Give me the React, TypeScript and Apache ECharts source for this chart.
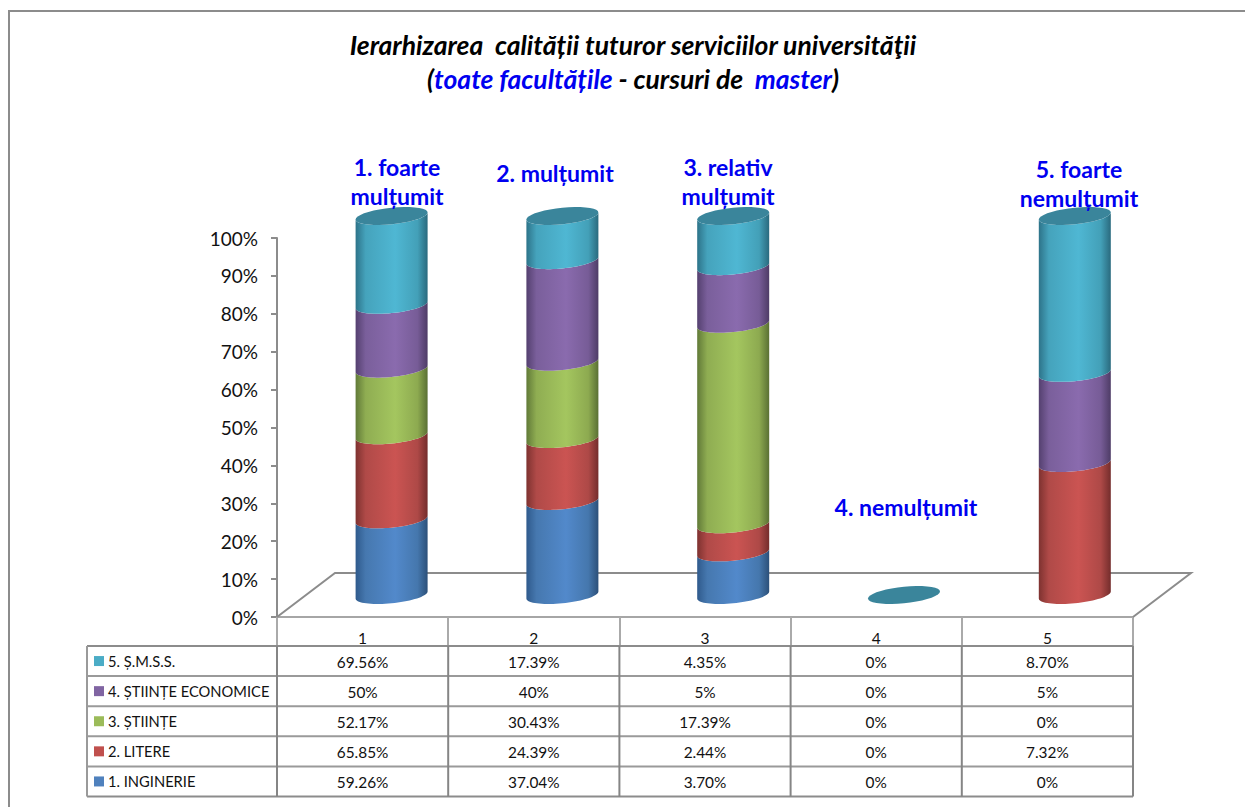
import React, { useEffect, useRef } from "react";
import * as echarts from "echarts";

const categories = ["1", "2", "3", "4", "5"];
const seriesNames = ["1. INGINERIE", "2. LITERE", "3. ȘTIINȚE", "4. ȘTIINȚE ECONOMICE", "5. Ș.M.S.S."];
const inginerie = [59.26, 37.04, 3.7, 0, 0];
const litere = [65.85, 24.39, 2.44, 0, 7.32];
const stiinte = [52.17, 30.43, 17.39, 0, 0];
const economice = [50, 40, 5, 0, 5];
const smss = [69.56, 17.39, 4.35, 0, 8.7];
const seriesValues = [inginerie, litere, stiinte, economice, smss];
const rowLabels = [
  ["59.26%", "37.04%", "3.70%", "0%", "0%"],
  ["65.85%", "24.39%", "2.44%", "0%", "7.32%"],
  ["52.17%", "30.43%", "17.39%", "0%", "0%"],
  ["50%", "40%", "5%", "0%", "5%"],
  ["69.56%", "17.39%", "4.35%", "0%", "8.70%"],
];
const keyColors = ["#4F81BD", "#C0504D", "#9BBB59", "#8064A2", "#4BACC6"];
const bodyStops = [
  ["#2F5A8C", "#4678AF", "#5289CB", "#4577AD", "#2C5079"],
  ["#7E3230", "#B04A48", "#CB5452", "#AE4947", "#742D2C"],
  ["#617A38", "#8FAD52", "#A4C65F", "#8DAA50", "#5A7034"],
  ["#54406F", "#7A5F9B", "#8A6BAE", "#775C97", "#4E3C66"],
  ["#2D7389", "#45A3BC", "#4FB7D3", "#43A0B8", "#2A6A7E"],
];
const capColor = "#3A859B";
const columnLabels = [
  { text: "1. foarte\nmulțumit", cx: 397, cy: 181.5 },
  { text: "2. mulțumit", cx: 555, cy: 173 },
  { text: "3. relativ\nmulțumit", cx: 728, cy: 181.5 },
  { text: "4. nemulțumit", cx: 906, cy: 507 },
  { text: "5. foarte\nnemulțumit", cx: 1079, cy: 183.5 },
];

const FONT = "Lato";
const GRID = { left: 277, top: 238, width: 856, height: 379 };
const DEPTH_X = 29;
const DEPTH_Y = -22;
const COLUMN_DRIFT = -0.4;
const RX = 36;
const TILT = 3.5;
const RY = 8.3;
const TABLE_LEFT = 87;
const TABLE_TOP = 646;
const ROW_H = 30.1;
const COL_W = GRID.width / categories.length;

const totals = categories.map((_, c) => seriesValues.reduce((s, v) => s + v[c], 0));

function segmentData(k: number) {
  const rows: number[][] = [];
  categories.forEach((_, c) => {
    const below = seriesValues.slice(0, k).reduce((s, v) => s + v[c], 0);
    if (totals[c] === 0 || seriesValues[k][c] === 0) return;
    rows.push([c, (below / totals[c]) * 100, ((below + seriesValues[k][c]) / totals[c]) * 100]);
  });
  return rows;
}

function arc(cx: number, cy: number, from: number, to: number) {
  const pts: number[][] = [];
  const n = 36;
  for (let i = 0; i <= n; i++) {
    const t = from + ((to - from) * i) / n;
    pts.push([cx + RX * Math.cos(t), cy - TILT * Math.cos(t) + RY * Math.sin(t)]);
  }
  return pts;
}

export default function App() {
  const ref = useRef<HTMLDivElement>(null);
  useEffect(() => {
    const chart = echarts.init(ref.current!, null, { renderer: "svg" });

    const segments = seriesNames.map((name, k) => ({
      type: "custom",
      name,
      z: 3,
      data: segmentData(k),
      encode: { x: 0, y: [1, 2] },
      renderItem: (_p: any, api: any) => {
        const c = api.value(0);
        const a = api.coord([c, api.value(1)]);
        const b = api.coord([c, api.value(2)]);
        const cx = a[0] + DEPTH_X + COLUMN_DRIFT * c;
        const lower = arc(cx, a[1] + DEPTH_Y, Math.PI, 0);
        const upper = arc(cx, b[1] + DEPTH_Y, 0, Math.PI);
        const s = bodyStops[k];
        return {
          type: "polygon",
          shape: { points: [...lower, ...upper] },
          style: {
            fill: new echarts.graphic.LinearGradient(0, 0, 1, 0, [
              { offset: 0, color: s[0] },
              { offset: 0.14, color: s[1] },
              { offset: 0.55, color: s[2] },
              { offset: 0.86, color: s[3] },
              { offset: 1, color: s[4] },
            ]),
          },
        };
      },
    }));

    const caps = {
      type: "custom",
      name: "cap",
      z: 4,
      data: categories.map((_, c) => [c, totals[c] > 0 ? 100 : 0]),
      encode: { x: 0, y: 1 },
      renderItem: (_p: any, api: any) => {
        const c = api.value(0);
        const p = api.coord([c, api.value(1)]);
        return {
          type: "polygon",
          shape: { points: arc(p[0] + DEPTH_X + COLUMN_DRIFT * c, p[1] + DEPTH_Y, 0, Math.PI * 2) },
          style: { fill: capColor },
        };
      },
    };

    const graphics: any[] = [];
    const line = (x1: number, y1: number, x2: number, y2: number, stroke: string, w: number, z = 1) =>
      graphics.push({ type: "line", z, shape: { x1, y1, x2, y2 }, style: { stroke, lineWidth: w } });

    // outer frame
    graphics.push({
      type: "polyline",
      z: 1,
      shape: { points: [[9, 807], [9, 11], [1245, 11]] },
      style: { stroke: "#8C8C8C", lineWidth: 2, fill: "none" },
    });
    // floor of the 3D plot
    const bottom = GRID.top + GRID.height;
    const right = GRID.left + GRID.width;
    graphics.push({
      type: "polyline",
      z: 1,
      shape: {
        points: [
          [GRID.left, bottom],
          [GRID.left + DEPTH_X * 2, bottom + DEPTH_Y * 2],
          [right + DEPTH_X * 2, bottom + DEPTH_Y * 2],
          [right, bottom],
        ],
      },
      style: { stroke: "#8C8C8C", lineWidth: 2, fill: "none" },
    });

    // data table
    const rows = seriesNames.length;
    for (let r = 0; r <= rows; r++) {
      line(TABLE_LEFT, TABLE_TOP + r * ROW_H, right, TABLE_TOP + r * ROW_H, r % 5 === 0 ? "#8C8C8C" : "#9A9A9A", 2);
    }
    line(TABLE_LEFT, TABLE_TOP, TABLE_LEFT, TABLE_TOP + rows * ROW_H, "#9A9A9A", 2);
    for (let c = 0; c <= categories.length; c++) {
      const x = GRID.left + c * COL_W;
      line(x, TABLE_TOP, x, TABLE_TOP + rows * ROW_H, "#858585", 2);
    }
    seriesNames.forEach((name, k) => {
      const y = TABLE_TOP + (rows - 1 - k) * ROW_H + ROW_H / 2;
      graphics.push({
        type: "rect",
        z: 2,
        shape: { x: 94, y: y - 5, width: 10, height: 10 },
        style: { fill: keyColors[k] },
      });
      graphics.push({
        type: "text",
        z: 10,
        x: 108,
        y: y - 0.5,
        style: { text: name, fontFamily: FONT, fontSize: 14.7, fill: "#111", verticalAlign: "middle", align: "left" },
      });
      rowLabels[k].forEach((label, c) => {
        graphics.push({
          type: "text",
          z: 10,
          x: GRID.left + (c + 0.5) * COL_W,
          y: y + 0.5,
          style: { text: label, fontFamily: FONT, fontSize: 15.4, fill: "#111", verticalAlign: "middle", align: "center" },
        });
      });
    });

    // labels above the columns
    columnLabels.forEach((l) => {
      graphics.push({
        type: "text",
        z: 10,
        x: l.cx,
        y: l.cy,
        style: {
          text: l.text,
          fontFamily: FONT,
          fontWeight: "bold",
          fontSize: 23,
          lineHeight: 29.5,
          fill: "#0000F0",
          align: "center",
          verticalAlign: "middle",
        },
      });
    });

    const base = { fontFamily: FONT, fontStyle: "italic", fontWeight: "bold", fontSize: 26.5, lineHeight: 34 };
    chart.setOption({
      animation: false,
      backgroundColor: "#fff",
      title: {
        left: 628,
        top: 23,
        textAlign: "center",
        text:
          "{k|Ierarhizarea  calității tuturor serviciilor universităţii}\n" +
          "{k|(}{b|toate facultățile}{k| - cursuri de  }{b|master}{k|)}",
        textStyle: {
          ...base,
          rich: {
            k: { ...base, color: "#000" },
            b: { ...base, color: "#0000F0" },
          },
        },
      },
      grid: { ...GRID, containLabel: false },
      xAxis: {
        type: "category",
        data: categories,
        axisLine: { lineStyle: { color: "#A6A6A6", width: 2 } },
        axisTick: { show: true, length: 29, lineStyle: { color: "#AAAAAA", width: 2 } },
        axisLabel: { margin: 13, fontFamily: FONT, fontSize: 15.5, color: "#111" },
      },
      yAxis: {
        type: "value",
        min: 0,
        max: 100,
        interval: 10,
        axisLine: { show: true, lineStyle: { color: "#8C8C8C", width: 2 } },
        axisTick: { show: true, length: 6, lineStyle: { color: "#8C8C8C", width: 2 } },
        axisLabel: { margin: 19, fontFamily: FONT, fontSize: 19, color: "#111", padding: [6, 0, 0, 0], formatter: "{value}%" },
        splitLine: { show: false },
      },
      graphic: graphics,
      series: [...segments, caps],
    });
    return () => chart.dispose();
  }, []);
  return <div ref={ref} style={{ position: "fixed", left: 0, top: 0, width: 1245, height: 807 }} />;
}
